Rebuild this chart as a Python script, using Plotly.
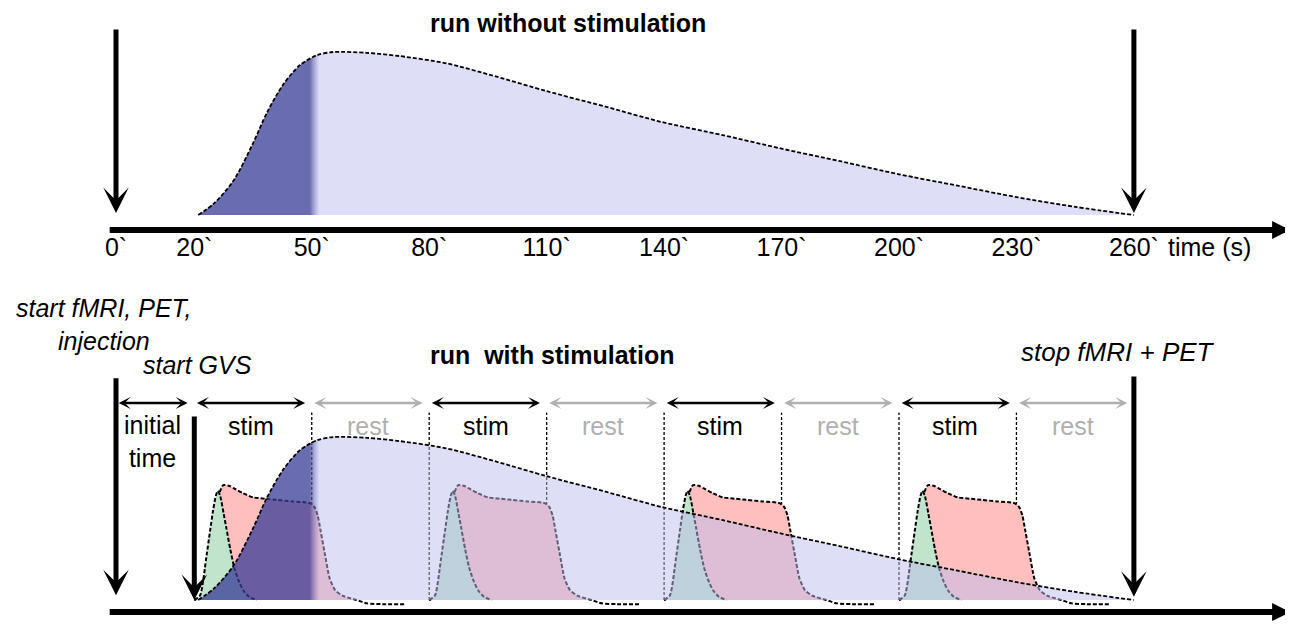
import plotly.graph_objects as go

# ---------------- data ----------------
tick_vals = [0, 20, 50, 80, 110, 140, 170, 200, 230, 260]
tick_text = ["0`", "20`", "50`", "80`", "110`", "140`", "170`", "200`", "230`", "260`"]

# block edges of the stimulation run (s)
block_edges = [0, 20, 50, 80, 110, 140, 170, 200, 230, 260]
block_names = ["initial<br>time", "stim", "rest", "stim", "rest", "stim", "rest", "stim", "rest"]
stim_onsets = [20, 80, 140, 200]

# PET tracer curve (normalised)
pet_t = [21, 25, 30, 35, 38.6, 42.7, 47, 51.3, 55.5, 64, 72.5, 84.5, 97, 110,
         125, 139.5, 155, 169.5, 185, 200, 215, 230, 245, 260]
pet_v = [0, 0.07, 0.21, 0.44, 0.63, 0.80, 0.92, 0.98, 1.0, 0.995, 0.975, 0.93,
         0.85, 0.76, 0.665, 0.57, 0.49, 0.41, 0.33, 0.25, 0.18, 0.11, 0.05, 0.0]
pet_switch = [49.5, 52]   # where the dark part turns light

# early (green) response, time relative to onset
green_t = [0, 1.5, 3, 4, 4.8, 5.5, 6, 6.6, 7.5, 8.2, 9.2, 10.2, 11.3, 12.5, 14, 16]
green_v = [0, 0.03, 0.25, 0.42, 0.55, 0.64, 0.67, 0.64, 0.53, 0.44, 0.31, 0.20,
           0.12, 0.06, 0.02, 0]

# sustained (red) response, time relative to onset
red_t = [0, 2, 3.5, 5, 6.3, 7.4, 9, 10.5, 12.5, 15, 18, 21, 25, 29.5, 30.7, 31.5,
         32.3, 33.3, 34.6, 36, 38, 41.5, 44, 48, 54]
red_v = [0, 0.03, 0.25, 0.50, 0.65, 0.705, 0.70, 0.68, 0.655, 0.63, 0.622, 0.615,
         0.605, 0.595, 0.57, 0.52, 0.42, 0.29, 0.13, 0.06, 0.025, 0.0, -0.02,
         -0.025, -0.025]

# ---------------- styles ----------------
FONT = "Liberation Sans, Arial, sans-serif"
DARK = "rgba(56,59,150,0.75)"
LIGHT = "rgba(189,189,237,0.5)"
RED = "rgb(255,191,191)"
GREEN = "rgb(192,228,204)"
GREY = "#b0b0b0"
DASH = "4px,2px"
SPL = dict(shape="spline", smoothing=0.6)

fig = go.Figure()

# dashed block separators
vx, vy = [], []
for e in block_edges[2:-1]:
    vx += [e, e, None]
    vy += [0, 1.15, None]
fig.add_trace(go.Scatter(x=vx, y=vy, mode="lines", yaxis="y2", hoverinfo="skip",
                         line=dict(color="black", width=1.3, dash="3px,2px")))

red_fill_v = [max(v, 0) for v in red_v]
for s in stim_onsets:
    xs = [s + t for t in red_t]
    fig.add_trace(go.Scatter(x=xs, y=red_fill_v, mode="lines", yaxis="y2",
                             fill="tozeroy", fillcolor=RED, hoverinfo="skip",
                             line=dict(width=0, color=RED, **SPL)))
    fig.add_trace(go.Scatter(x=xs, y=red_v, mode="lines", yaxis="y2", hoverinfo="skip",
                             line=dict(color="black", width=2, dash=DASH, **SPL)))
for s in stim_onsets:
    fig.add_trace(go.Scatter(x=[s + t for t in green_t], y=green_v, mode="lines",
                             yaxis="y2", fill="tozeroy", fillcolor=GREEN, hoverinfo="skip",
                             line=dict(color="black", width=2, dash=DASH, **SPL)))

for ya in ["y", "y2"]:
    fig.add_trace(go.Scatter(
        x=pet_t, y=pet_v, mode="lines", yaxis=ya, fill="tozeroy", hoverinfo="skip",
        fillgradient=dict(type="horizontal", colorscale=[[0, DARK], [1, LIGHT]],
                          start=pet_switch[0], stop=pet_switch[1]),
        line=dict(color="black", width=1.8, dash=DASH, shape="spline", smoothing=0.8)))

ann = []

def arrow(x, y, ax, ay, yref, width, head, size, color="black", both=False):
    d = dict(x=x, y=y, ax=ax, ay=ay, xref="x", yref=yref, axref="x", ayref=yref,
             text="", showarrow=True, arrowhead=head, arrowsize=size,
             arrowwidth=width, arrowcolor=color, standoff=0)
    if both:
        d.update(arrowside="end+start", startarrowhead=head, startarrowsize=size,
                 startstandoff=0)
    ann.append(d)

# time axes
arrow(299.9, -0.092, -2.0, -0.092, "y", 6, 2, 0.6)
arrow(299.9, -0.074, -2.0, -0.074, "y2", 6, 2, 0.6)

# big vertical arrows
arrow(0, 0.012, 0, 1.147, "y", 5, 3, 0.85)
arrow(260, 0.012, 260, 1.147, "y", 5, 3, 0.85)
arrow(0, 0.03, 0, 1.37, "y2", 5, 3, 0.85)
arrow(stim_onsets[0], 0.0, stim_onsets[0], 1.135, "y2", 5, 3, 0.85)
arrow(260, 0.02, 260, 1.38, "y2", 5, 3, 0.85)

# block double arrows and labels
for i, name in enumerate(block_names):
    a, b = block_edges[i], block_edges[i + 1]
    col = GREY if name == "rest" else "black"
    arrow(b - 1.7, 1.209, a + 0.3, 1.209, "y2", 2.5, 3, 0.8, col, both=True)
    ann.append(dict(x=(a + b) / 2 - 0.6, y=0.97 if i == 0 else 1.067, xref="x", yref="y2",
                    text=name, showarrow=False,
                    font=dict(family=FONT, size=25, color=col)))

# texts
ann.append(dict(x=79.7, y=1.178, xref="x", yref="y", xanchor="left",
                text="<b>run without stimulation</b>", showarrow=False,
                font=dict(family=FONT, size=25, color="black")))
ann.append(dict(x=79.7, y=1.505, xref="x", yref="y2", xanchor="left",
                text="<b>run \u00a0with stimulation</b>", showarrow=False,
                font=dict(family=FONT, size=25, color="black")))
ann.append(dict(x=-3.1, y=1 - 300 / 624, xref="x", yref="paper",
                text="<i>start fMRI, PET,</i>", showarrow=False,
                font=dict(family=FONT, size=25, color="black")))
ann.append(dict(x=-3.0, y=1.589, xref="x", yref="y2",
                text="<i>injection</i>", showarrow=False,
                font=dict(family=FONT, size=25, color="black")))
ann.append(dict(x=20.7, y=1.442, xref="x", yref="y2",
                text="<i>start GVS</i>", showarrow=False,
                font=dict(family=FONT, size=25, color="black")))
ann.append(dict(x=256, y=1.521, xref="x", yref="y2",
                text="<i>stop fMRI + PET</i>", showarrow=False,
                font=dict(family=FONT, size=26, color="black")))
ann.append(dict(x=279.4, y=-0.196, xref="x", yref="y",
                text="time (s)", showarrow=False,
                font=dict(family=FONT, size=25, color="black")))

# page body adds an 8px offset; ranges compensate for it
fig.update_layout(
    width=1293, height=624, margin=dict(l=0, r=0, t=0, b=0),
    paper_bgcolor="white", plot_bgcolor="white", showlegend=False,
    annotations=ann,
    xaxis=dict(range=[-27.586, 302.682], tickvals=tick_vals, ticktext=tick_text,
               showgrid=False, zeroline=False, showline=False, ticks="",
               anchor="free", position=1 - 222 / 624,
               tickfont=dict(family=FONT, size=25, color="black")),
    yaxis=dict(domain=[0.5, 1], range=[-0.644, 1.270], visible=False),
    yaxis2=dict(domain=[0, 0.5], range=[-0.196, 1.718], visible=False),
)

fig.write_html("out.html")
